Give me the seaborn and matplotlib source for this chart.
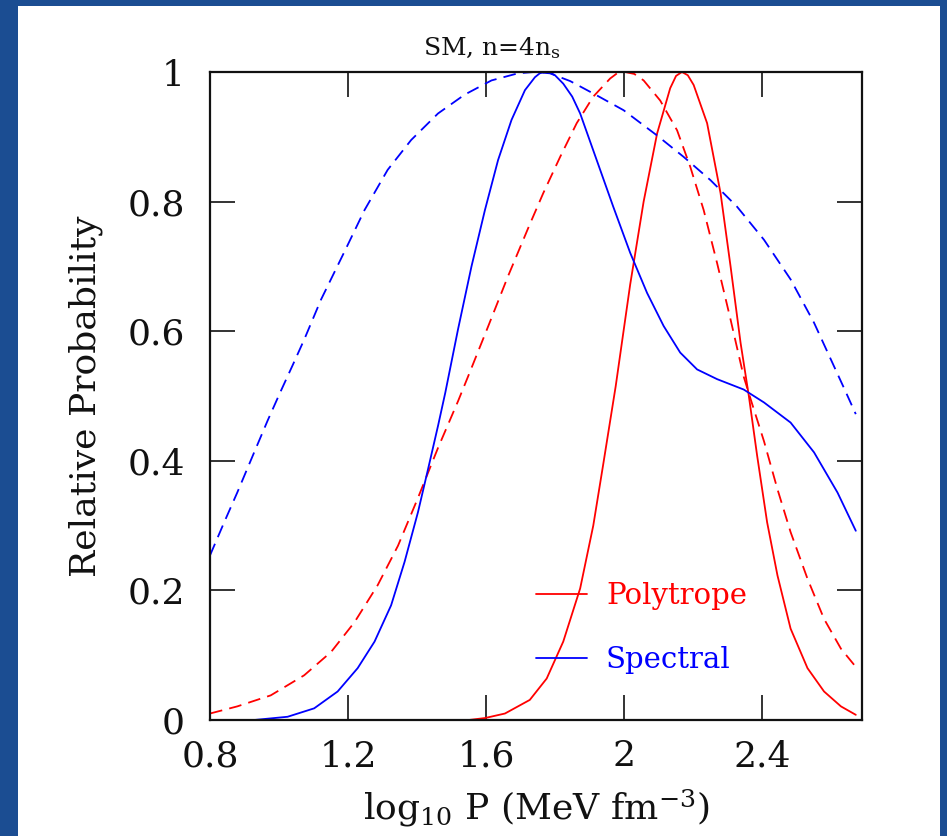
import numpy as np
import pandas as pd
import matplotlib
matplotlib.use("Agg")
import matplotlib.pyplot as plt
import seaborn as sns
from matplotlib.patches import Rectangle
from matplotlib.lines import Line2D
from matplotlib.ticker import FormatStrFormatter

# ---------------- data ----------------
spec_dash_x = [0.80, 0.841, 0.879, 0.928, 0.967, 1.003, 1.040, 1.073, 1.122, 1.190, 1.248,
               1.315, 1.383, 1.461, 1.538, 1.616, 1.693, 1.740, 1.785, 1.844, 1.921,
               1.999, 2.096, 2.173, 2.251, 2.328, 2.406, 2.483, 2.551, 2.638, 2.672]
spec_dash_y = [0.254, 0.305, 0.351, 0.413, 0.462, 0.505, 0.548, 0.587, 0.649, 0.723, 0.787,
               0.849, 0.895, 0.936, 0.965, 0.987, 0.998, 1.000, 0.998, 0.986, 0.964,
               0.941, 0.902, 0.869, 0.833, 0.792, 0.741, 0.680, 0.613, 0.512, 0.472]

spec_x = [0.80, 0.928, 1.025, 1.102, 1.170, 1.228, 1.277, 1.325, 1.364, 1.403,
          1.432, 1.461, 1.482, 1.519, 1.558, 1.597, 1.635, 1.674, 1.713, 1.742,
          1.756, 1.771, 1.786, 1.800, 1.824, 1.850, 1.873, 1.921, 1.969, 2.018, 2.067, 2.115, 2.163,
          2.212, 2.270, 2.347, 2.406, 2.483, 2.551, 2.619, 2.672]
spec_y = [0.000, 0.000, 0.005, 0.018, 0.044, 0.080, 0.121, 0.177, 0.244, 0.321,
          0.387, 0.454, 0.505, 0.603, 0.700, 0.787, 0.864, 0.926, 0.972, 0.992,
          0.998, 1.000, 0.999, 0.995, 0.982, 0.962, 0.936, 0.864, 0.792, 0.721, 0.659, 0.608, 0.567,
          0.541, 0.526, 0.510, 0.490, 0.459, 0.413, 0.351, 0.292]

poly_dash_x = [0.80, 0.879, 0.976, 1.073, 1.151, 1.219, 1.286, 1.345, 1.403, 1.461,
               1.519, 1.548, 1.606, 1.664, 1.727, 1.766, 1.815, 1.863, 1.911, 1.960,
               1.980, 2.003, 2.030, 2.057, 2.105, 2.154, 2.192, 2.231, 2.270, 2.309, 2.347, 2.372,
               2.406, 2.445, 2.483, 2.532, 2.580, 2.629, 2.672]
poly_dash_y = [0.010, 0.021, 0.038, 0.069, 0.105, 0.151, 0.208, 0.269, 0.343, 0.420,
               0.492, 0.530, 0.607, 0.685, 0.765, 0.813, 0.869, 0.921, 0.962, 0.990,
               0.998, 1.000, 0.997, 0.987, 0.956, 0.910, 0.854, 0.787, 0.705, 0.618, 0.530, 0.487,
               0.430, 0.356, 0.290, 0.218, 0.156, 0.110, 0.082]

poly_x = [0.80, 1.20, 1.55, 1.597, 1.655, 1.727, 1.776, 1.824, 1.873, 1.911,
          1.940, 1.976, 2.018, 2.057, 2.096, 2.134, 2.151, 2.168, 2.185, 2.202, 2.241, 2.280,
          2.309, 2.338, 2.362, 2.386, 2.415, 2.445, 2.483, 2.532, 2.580, 2.629, 2.672]
poly_y = [0.000, 0.000, 0.000, 0.003, 0.010, 0.031, 0.064, 0.121, 0.203, 0.300,
          0.395, 0.515, 0.672, 0.800, 0.905, 0.975, 0.994, 1.000, 0.995, 0.980, 0.921, 0.813,
          0.700, 0.582, 0.500, 0.408, 0.305, 0.223, 0.141, 0.080, 0.044, 0.021, 0.008]

x_ticks = [0.8, 1.2, 1.6, 2.0, 2.4]
y_ticks = [0.0, 0.2, 0.4, 0.6, 0.8, 1.0]
models = ["Polytrope", "Spectral"]
model_colors = {"Polytrope": "#ff0000", "Spectral": "#0000ff"}

frames = [
    pd.DataFrame({"x": poly_x, "y": poly_y, "model": "Polytrope", "kind": "solid"}),
    pd.DataFrame({"x": poly_dash_x, "y": poly_dash_y, "model": "Polytrope", "kind": "dashed"}),
    pd.DataFrame({"x": spec_x, "y": spec_y, "model": "Spectral", "kind": "solid"}),
    pd.DataFrame({"x": spec_dash_x, "y": spec_dash_y, "model": "Spectral", "kind": "dashed"}),
]
df = pd.concat(frames, ignore_index=True)

# ---------------- style ----------------
sns.set_theme(style="ticks")
plt.rcParams["font.family"] = ["DejaVu Serif"]
plt.rcParams["mathtext.fontset"] = "dejavuserif"

fig = plt.figure(figsize=(9.47, 8.36), dpi=100)
fig.patch.set_facecolor("#1b4d92")
fig.patches.append(Rectangle((18 / 947, 0), (940 - 18) / 947, 1 - 6 / 836,
                             transform=fig.transFigure, facecolor="white",
                             edgecolor="none", zorder=-10))

ax = fig.add_axes([210 / 947, 1 - 720 / 836, (862 - 210) / 947, (720 - 72) / 836])
ax.set_zorder(5)
ax.set_facecolor("white")

sns.lineplot(data=df, x="x", y="y", hue="model", style="kind",
             palette=model_colors, dashes={"solid": "", "dashed": (7, 4)},
             estimator=None, linewidth=1.3, legend=False, ax=ax)
for ln in ax.get_lines():
    ln.set_solid_joinstyle("round")
    ln.set_dash_joinstyle("round")

ax.set_xlim(0.8, 2.69)
ax.set_ylim(0, 1)
ax.set_xticks(x_ticks)
ax.set_yticks(y_ticks)
ax.xaxis.set_major_formatter(FormatStrFormatter("%g"))
ax.yaxis.set_major_formatter(FormatStrFormatter("%g"))
ax.minorticks_off()
ax.tick_params(direction="in", length=18, width=1.4, color="#333333",
               top=True, right=True, labelsize=26, labelcolor="#111111")
ax.tick_params(axis="x", pad=14)
ax.tick_params(axis="y", pad=18)
for s in ax.spines.values():
    s.set_color("#111111")
    s.set_linewidth(1.6)

ax.set_title(r"SM, n=4n$_{\mathrm{s}}$", fontsize=18, x=0.433, pad=12, color="#111111")
ax.set_xlabel(r"$\mathrm{log}_{10}$ P (MeV fm$^{-3}$)", fontsize=26, labelpad=10, color="#111111")
ax.set_ylabel("Relative Probability", fontsize=26, labelpad=18, color="#111111")

handles = [Line2D([], [], color=model_colors[m], lw=1.3) for m in models]
ax.legend(handles, models, labelcolor=[model_colors[m] for m in models],
          frameon=False, fontsize=21, loc="center left",
          bbox_to_anchor=(0.5, 0.142), handlelength=1.75, handletextpad=0.65,
          labelspacing=1.22, borderpad=0, borderaxespad=0)

fig.savefig("out.png", dpi=100, facecolor=fig.get_facecolor())
